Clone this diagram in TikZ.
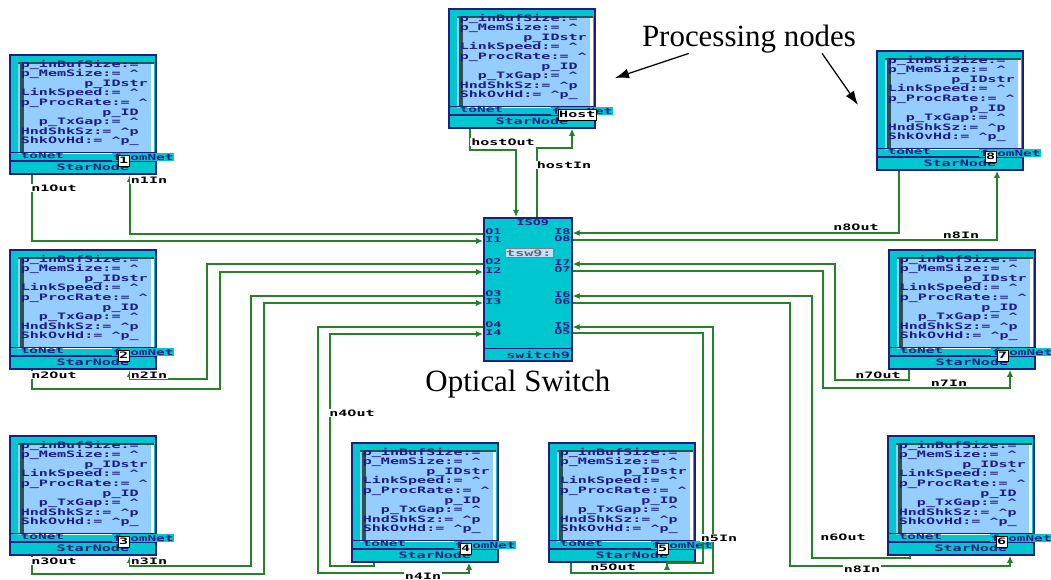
\documentclass[tikz,border=0pt]{standalone}
\usepackage{fontspec}
\setmainfont{Liberation Serif}
\newfontfamily\pixfont[FakeStretch=1.7]{DejaVu Sans Mono}
\usetikzlibrary{shapes.multipart, positioning, arrows.meta, calc}

\definecolor{navy}{RGB}{30,30,130}
\definecolor{starcyan}{RGB}{0,198,208}
\definecolor{paramblue}{RGB}{150,205,255}
\definecolor{stripe}{RGB}{45,85,80}
\definecolor{wiregreen}{RGB}{38,130,38}

% parameter list of a StarNode (first part)
\newcommand{\params}{\parbox[t][2.3cm][t]{3.4cm}{\raggedright\leftskip=0.15cm
    \fontsize{6.3}{6.8}\selectfont\vspace*{0.06cm}%
    p\_inBufSize:=\\
    p\_MemSize:= \textasciicircum\\
    \phantom{0000000}p\_IDstr\\
    LinkSpeed:= \textasciicircum\\
    p\_ProcRate:= \textasciicircum\\
    \phantom{000000000}p\_ID\\
    \phantom{00}p\_TxGap:= \textasciicircum\\
    HndShkSz:= \textasciicircum p\\
    ShkOvHd:= \textasciicircum p\_}}
% port row and name row (fixed heights)
\newcommand{\netrow}{\makebox[3.4cm][l]{\rule{0pt}{0.075cm}\hspace*{0.15cm}%
    \smash{\raisebox{0pt}{\fontsize{6}{6}\selectfont toNet}}}}
\newcommand{\namerow}{\makebox[3.4cm][c]{\rule{0pt}{0.175cm}\hspace*{0.5cm}%
    \smash{\raisebox{0.6pt}{\fontsize{6.3}{6.3}\selectfont StarNode}}}}

\begin{document}
\begin{tikzpicture}[
    x=0.025cm, y=-0.025cm,
    >={Latex[length=5pt, width=4.5pt]},
    pix/.style={font=\pixfont\bfseries\fontsize{6.3}{6.8}\selectfont},
    procnode/.style={
        rectangle split, rectangle split parts=3, anchor=north west,
        draw=navy, line width=1.2pt, fill=starcyan, text=navy,
        minimum width=3.65cm, inner xsep=0pt, inner ysep=0.05cm,
        font=\pixfont\bfseries,
        path picture={
            \begin{scope}[shift={(path picture bounding box.north west)}]
            \fill[paramblue] (3,4) rectangle (139,96);
            \fill[stripe] (3,4) rectangle (139,6);
            \fill[stripe] (5,4) rectangle (9,94);
            \fill[white] (136,6) rectangle (139,96);
            \fill[white] (9,94) rectangle (136,96);
            \end{scope}
        }
    },
    switchbox/.style={
        rectangle split, rectangle split parts=2, anchor=north west,
        draw=navy, line width=1.2pt, fill=starcyan, text=navy,
        minimum width=2.2cm, inner xsep=0pt, inner ysep=0pt, pix
    },
    wire/.style={draw=wiregreen, line width=1.2pt},
    lbl/.style={pix, fill=white, inner sep=0.6pt},
    portlbl/.style={font=\pixfont\bfseries\fontsize{5.6}{5.6}\selectfont, text=navy, inner sep=0pt},
    portno/.style={pix, draw=black, line width=0.5pt, fill=white, inner sep=0.6pt,
        minimum width=0.25cm, minimum height=0.27cm, anchor=north west},
    fromnet/.style={font=\pixfont\bfseries\fontsize{6}{6}\selectfont, fill=starcyan,
        text=navy, inner sep=0.5pt, minimum height=0.2cm, anchor=north west},
    bigtext/.style={font=\fontsize{22}{26}\selectfont, inner sep=0pt},
    pointer/.style={-{Latex[length=10pt, width=7pt]}, line width=0.9pt}
]

\useasboundingbox[fill=white] (0,0) rectangle (1051,579);

% -------------------------
% Processing nodes (StarNode instances)
% -------------------------

% host (top centre)
\node[procnode] (host) at (448,8) {\params \nodepart{second} \netrow \nodepart{third} \namerow};
% 1. top left
\node[procnode] (n1) at (9,54) {\params \nodepart{second} \netrow \nodepart{third} \namerow};
% 2. middle left
\node[procnode] (n2) at (9,249) {\params \nodepart{second} \netrow \nodepart{third} \namerow};
% 3. bottom left
\node[procnode] (n3) at (9,435) {\params \nodepart{second} \netrow \nodepart{third} \namerow};
% 4. bottom centre left
\node[procnode] (n4) at (351,442) {\params \nodepart{second} \netrow \nodepart{third} \namerow};
% 5. bottom centre right
\node[procnode] (n5) at (548,442) {\params \nodepart{second} \netrow \nodepart{third} \namerow};
% 6. bottom right
\node[procnode] (n6) at (887,435) {\params \nodepart{second} \netrow \nodepart{third} \namerow};
% 7. middle right
\node[procnode] (n7) at (888,249) {\params \nodepart{second} \netrow \nodepart{third} \namerow};
% 8. top right
\node[procnode] (n8) at (876,50) {\params \nodepart{second} \netrow \nodepart{third} \namerow};

% fromNet ports and node numbers
\node[fromnet] (hostfrom) at ($(host.south west)+(103,-22)$) {fromNet};
\node[portno] (hostno) at ($(host.south west)+(110,-20)$) {Host};
\node[fromnet] (n1from) at ($(n1.south west)+(103,-22)$) {fromNet};
\node[portno] (n1no) at ($(n1.south west)+(109,-20)$) {1};
\node[fromnet] (n2from) at ($(n2.south west)+(103,-22)$) {fromNet};
\node[portno] (n2no) at ($(n2.south west)+(109,-20)$) {2};
\node[fromnet] (n3from) at ($(n3.south west)+(103,-22)$) {fromNet};
\node[portno] (n3no) at ($(n3.south west)+(109,-20)$) {3};
\node[fromnet] (n4from) at ($(n4.south west)+(103,-22)$) {fromNet};
\node[portno] (n4no) at ($(n4.south west)+(109,-20)$) {4};
\node[fromnet] (n5from) at ($(n5.south west)+(103,-22)$) {fromNet};
\node[portno] (n5no) at ($(n5.south west)+(109,-20)$) {5};
\node[fromnet] (n6from) at ($(n6.south west)+(103,-22)$) {fromNet};
\node[portno] (n6no) at ($(n6.south west)+(109,-20)$) {6};
\node[fromnet] (n7from) at ($(n7.south west)+(103,-22)$) {fromNet};
\node[portno] (n7no) at ($(n7.south west)+(109,-20)$) {7};
\node[fromnet] (n8from) at ($(n8.south west)+(103,-22)$) {fromNet};
\node[portno] (n8no) at ($(n8.south west)+(109,-20)$) {8};

% -------------------------
% Optical switch
% -------------------------
\node[switchbox] (sw) at (483,217) {\rule{0pt}{3.225cm}
    \nodepart{second} \makebox[2.1cm][r]{\rule{0pt}{0.275cm}\smash{\raisebox{1.5pt}{switch9}}}};
\node[bigtext, below=0.2cm of sw, xshift=-0.25cm] (swlabel) {Optical Switch};
\node[pix, draw=gray, fill=paramblue!60!white, text=gray!80!black, inner sep=1pt,
    minimum width=1.15cm] (swname) at ($(sw.north)+(1,36)$) {tsw9:};
\node[portlbl] (p9) at ($(sw.north)+(5,6)$) {ISO9};

% switch ports
\coordinate (o1) at ($(sw.north west)+(0,17)$);
\coordinate (i1) at ($(sw.north west)+(0,24)$);
\coordinate (o2) at ($(sw.north west)+(0,47)$);
\coordinate (i2) at ($(sw.north west)+(0,55)$);
\coordinate (o3) at ($(sw.north west)+(0,79)$);
\coordinate (i3) at ($(sw.north west)+(0,86)$);
\coordinate (o4) at ($(sw.north west)+(0,110)$);
\coordinate (i4) at ($(sw.north west)+(0,117)$);
\coordinate (i8) at ($(sw.north east)+(0,16)$);
\coordinate (o8) at ($(sw.north east)+(0,23)$);
\coordinate (i7) at ($(sw.north east)+(0,47)$);
\coordinate (o7) at ($(sw.north east)+(0,54)$);
\coordinate (i6) at ($(sw.north east)+(0,79)$);
\coordinate (o6) at ($(sw.north east)+(0,86)$);
\coordinate (i5) at ($(sw.north east)+(0,110)$);
\coordinate (o5) at ($(sw.north east)+(0,116)$);
\coordinate (i9) at ($(sw.north west)+(33,0)$);
\coordinate (o9) at ($(sw.north west)+(54,0)$);

% port names
\node[portlbl, anchor=west] (po1) at ($(o1)+(2,-2)$) {O1};
\node[portlbl, anchor=west] (pi1) at ($(i1)+(2,-1)$) {I1};
\node[portlbl, anchor=west] (po2) at ($(o2)+(2,-2)$) {O2};
\node[portlbl, anchor=west] (pi2) at ($(i2)+(2,-1)$) {I2};
\node[portlbl, anchor=west] (po3) at ($(o3)+(2,-2)$) {O3};
\node[portlbl, anchor=west] (pi3) at ($(i3)+(2,-1)$) {I3};
\node[portlbl, anchor=west] (po4) at ($(o4)+(2,-2)$) {O4};
\node[portlbl, anchor=west] (pi4) at ($(i4)+(2,-1)$) {I4};
\node[portlbl, anchor=east] (pi8) at ($(i8)+(-2,-1)$) {I8};
\node[portlbl, anchor=east] (po8) at ($(o8)+(-2,-1)$) {O8};
\node[portlbl, anchor=east] (pi7) at ($(i7)+(-2,-1)$) {I7};
\node[portlbl, anchor=east] (po7) at ($(o7)+(-2,-1)$) {O7};
\node[portlbl, anchor=east] (pi6) at ($(i6)+(-2,-1)$) {I6};
\node[portlbl, anchor=east] (po6) at ($(o6)+(-2,-1)$) {O6};
\node[portlbl, anchor=east] (pi5) at ($(i5)+(-2,-1)$) {I5};
\node[portlbl, anchor=east] (po5) at ($(o5)+(-2,-1)$) {O5};

% -------------------------
% Links between nodes and switch
% -------------------------

% host
\draw[wire, ->] ($(host.south west)+(22,0)$) -- ++(0,21) -| (i9);
\draw[wire, ->] (o9) -- ++(0,-69) -| ($(host.south west)+(124,0)$);
% n1
\draw[wire, ->] ($(n1.south west)+(23,0)$) |- (i1);
\draw[wire, ->] (o1) -| ($(n1.south west)+(121,0)$);
% n2
\draw[wire, ->] ($(n2.south west)+(23,0)$) |- (220,389) |- (i2);
\draw[wire, ->] (o2) -| (207,379) -| ($(n2.south west)+(121,0)$);
% n3
\draw[wire, ->] ($(n3.south west)+(23,0)$) |- (264,574) |- (i3);
\draw[wire, ->] (o3) -| (251,566) -| ($(n3.south west)+(121,0)$);
% n4
\draw[wire, ->] ($(n4.south west)+(23,0)$) |- (330,566) |- (i4);
\draw[wire, ->] (o4) -| (318,573) -| ($(n4.south west)+(118,0)$);
% n5
\draw[wire, ->] ($(n5.south west)+(23,0)$) |- (713,573) |- (i5);
\draw[wire, ->] (o5) -| (703,563) -| ($(n5.south west)+(119,0)$);
% n6
\draw[wire, ->] ($(n6.south west)+(23,0)$) |- (812,558) |- (i6);
\draw[wire, ->] (o6) -| (790,566) -| ($(n6.south west)+(123,0)$);
% n7
\draw[wire, ->] ($(n7.south west)+(21,0)$) |- (835,380) |- (i7);
\draw[wire, ->] (o7) -| (823,388) -| ($(n7.south west)+(122,0)$);
% n8
\draw[wire, ->] ($(n8.south west)+(23,0)$) |- (i8);
\draw[wire, ->] (o8) -| ($(n8.south west)+(121,0)$);

% link labels
\node[lbl] (lhostout) at (503,142) {hostOut};
\node[lbl] (lhostin) at (564,165) {hostIn};
\node[lbl] (ln1out) at (54,188) {n1Out};
\node[lbl] (ln1in) at (149,180) {n1In};
\node[lbl] (ln2out) at (54,375) {n2Out};
\node[lbl] (ln2in) at (149,375) {n2In};
\node[lbl] (ln3out) at (54,561) {n3Out};
\node[lbl] (ln3in) at (149,561) {n3In};
\node[lbl] (ln4out) at (352,413) {n4Out};
\node[lbl] (ln4in) at (423,576) {n4In};
\node[lbl] (ln5out) at (613,567) {n5Out};
\node[lbl] (ln5in) at (719,538) {n5In};
\node[lbl] (ln6out) at (843,537) {n6Out};
\node[lbl] (ln6in) at (862,569) {n8In};
\node[lbl] (ln7out) at (878,375) {n7Out};
\node[lbl] (ln7in) at (949,383) {n7In};
\node[lbl] (ln8out) at (856,227) {n8Out};
\node[lbl] (ln8in) at (961,235) {n8In};

% -------------------------
% Caption with pointers
% -------------------------
\node[bigtext] (title) at (749,39) {Processing nodes};
\coordinate (tipL) at (615,78);
\coordinate (tipR) at (858,105);
\draw[pointer] ([xshift=-1.5cm]title.south) -- (tipL);
\draw[pointer] ([xshift=1.825cm]title.south) -- (tipR);

\end{tikzpicture}
\end{document}
